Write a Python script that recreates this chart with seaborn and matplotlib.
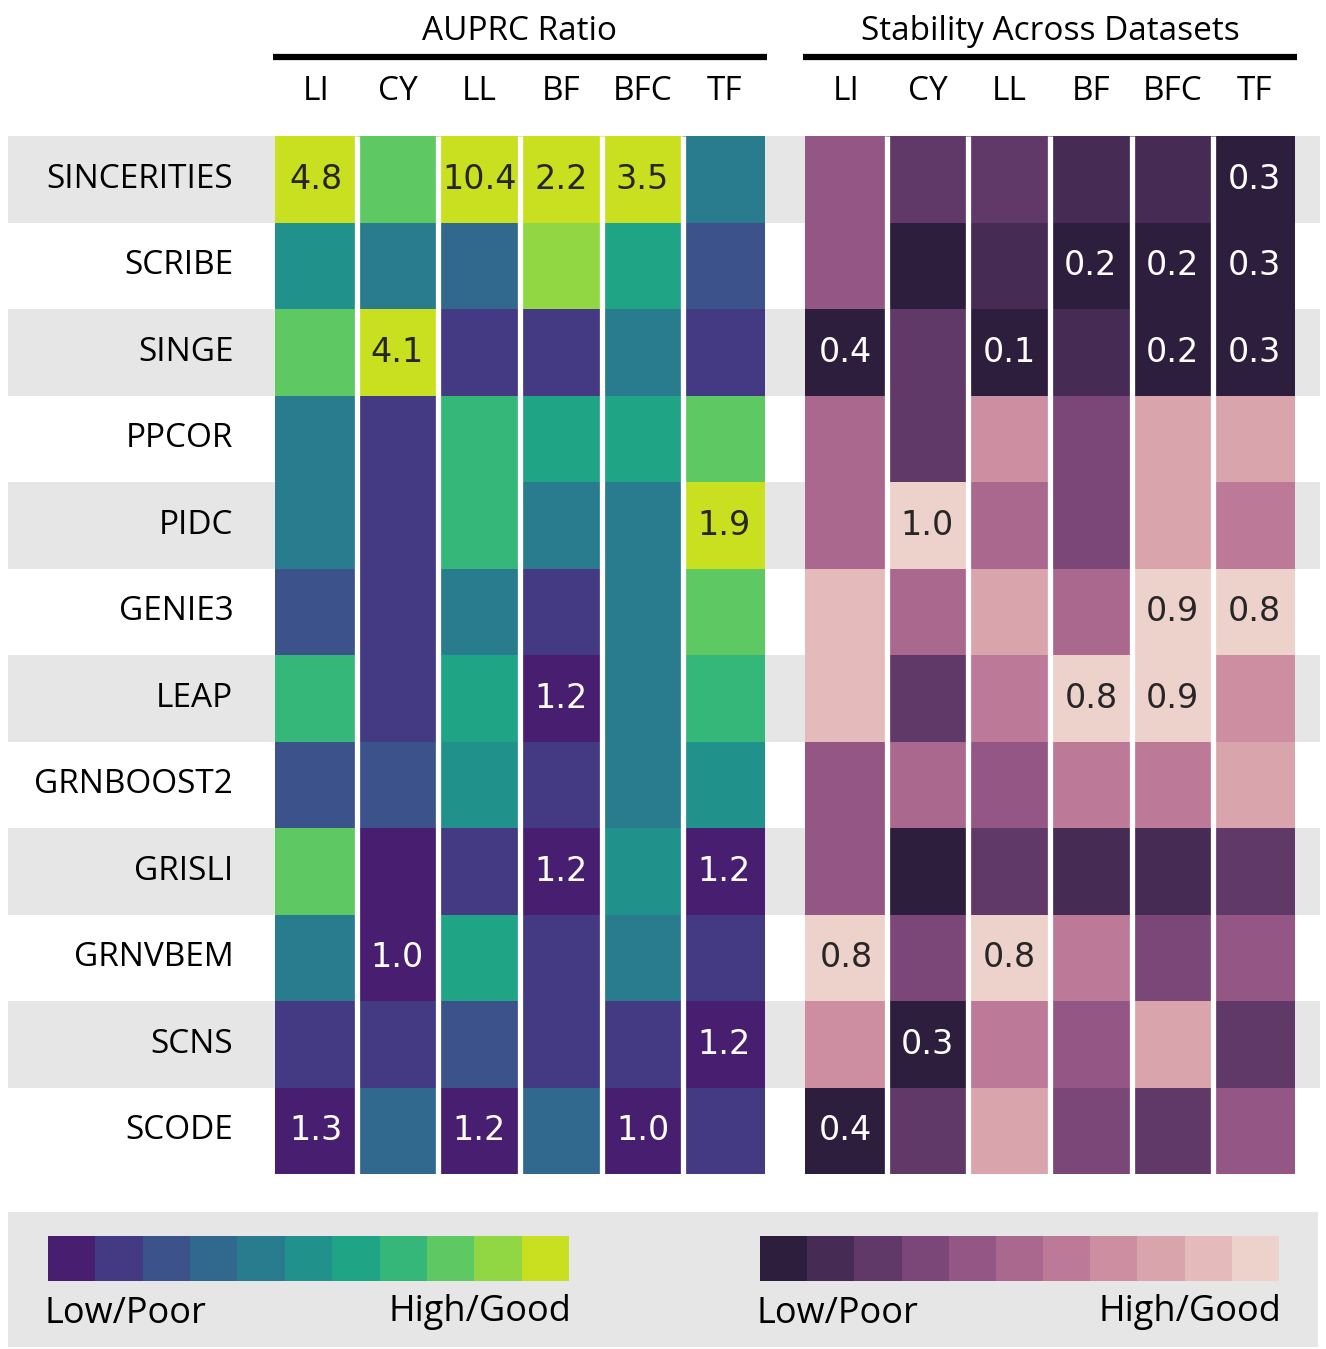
import numpy as np
import matplotlib.pyplot as plt
from matplotlib.colors import ListedColormap
import seaborn as sns

algorithms = ["SINCERITIES", "SCRIBE", "SINGE", "PPCOR", "PIDC", "GENIE3",
              "LEAP", "GRNBOOST2", "GRISLI", "GRNVBEM", "SCNS", "SCODE"]
datasets = ["LI", "CY", "LL", "BF", "BFC", "TF"]

# colour level (0 = low/poor ... 10 = high/good)
auprc_level = [
    [10, 8, 10, 10, 10, 4],
    [5, 4, 3, 9, 6, 2],
    [8, 10, 1, 1, 4, 1],
    [4, 1, 7, 6, 6, 8],
    [4, 1, 7, 4, 4, 10],
    [2, 1, 4, 1, 4, 8],
    [7, 1, 6, 0, 4, 7],
    [2, 2, 5, 1, 4, 5],
    [8, 0, 1, 0, 5, 0],
    [4, 0, 6, 1, 4, 1],
    [1, 1, 2, 1, 1, 0],
    [0, 3, 0, 3, 0, 1],
]
auprc_text = [
    ["4.8", "", "10.4", "2.2", "3.5", ""],
    ["", "", "", "", "", ""],
    ["", "4.1", "", "", "", ""],
    ["", "", "", "", "", ""],
    ["", "", "", "", "", "1.9"],
    ["", "", "", "", "", ""],
    ["", "", "", "1.2", "", ""],
    ["", "", "", "", "", ""],
    ["", "", "", "1.2", "", "1.2"],
    ["", "1.0", "", "", "", ""],
    ["", "", "", "", "", "1.2"],
    ["1.3", "", "1.2", "", "1.0", ""],
]

stab_level = [
    [4, 2, 2, 1, 1, 0],
    [4, 0, 1, 0, 0, 0],
    [0, 2, 0, 1, 0, 0],
    [5, 2, 7, 3, 8, 8],
    [5, 10, 5, 3, 8, 6],
    [9, 5, 8, 5, 10, 10],
    [9, 2, 6, 10, 10, 7],
    [4, 5, 4, 6, 6, 8],
    [4, 0, 2, 1, 1, 2],
    [10, 3, 10, 6, 3, 4],
    [7, 0, 6, 4, 8, 2],
    [0, 2, 8, 3, 2, 4],
]
stab_text = [
    ["", "", "", "", "", "0.3"],
    ["", "", "", "0.2", "0.2", "0.3"],
    ["0.4", "", "0.1", "", "0.2", "0.3"],
    ["", "", "", "", "", ""],
    ["", "1.0", "", "", "", ""],
    ["", "", "", "", "0.9", "0.8"],
    ["", "", "", "0.8", "0.9", ""],
    ["", "", "", "", "", ""],
    ["", "", "", "", "", ""],
    ["0.8", "", "0.8", "", "", ""],
    ["", "0.3", "", "", "", ""],
    ["0.4", "", "", "", "", ""],
]

sns.set_style("white")
plt.rcParams['font.family'] = ['Open Sans', 'DejaVu Sans']
plt.rcParams['text.color'] = 'black'
plt.rcParams['xtick.color'] = 'black'
plt.rcParams['ytick.color'] = 'black'

W, H = 1326, 1349
fig = plt.figure(figsize=(W / 100, H / 100), dpi=100)


def px_axes(x0, y0, x1, y1):
    return fig.add_axes([x0 / W, 1 - y1 / H, (x1 - x0) / W, (y1 - y0) / H])


band = "#e6e6e6"
pal_auprc = sns.color_palette("viridis", 11)
pal_stab = sns.cubehelix_palette(11, reverse=True)

# alternating grey row bands behind both heatmaps
bg = px_axes(8, 136, 1320, 1174)
bg.set_xlim(0, 1)
bg.set_ylim(len(algorithms), 0)
for i in range(0, len(algorithms), 2):
    bg.axhspan(i, i + 1, color=band, lw=0)
bg.axis("off")

ax1 = px_axes(275, 136, 765, 1174)
ax2 = px_axes(805, 136, 1295, 1174)

panels = [(ax1, auprc_level, auprc_text, pal_auprc, "AUPRC Ratio"),
          (ax2, stab_level, stab_text, pal_stab, "Stability Across Datasets")]

for k, (ax, level, text, pal, title) in enumerate(panels):
    sns.heatmap(np.array(level), ax=ax, cmap=ListedColormap(pal),
                vmin=-0.5, vmax=10.5, cbar=False,
                annot=np.array(text), fmt="",
                annot_kws={"family": "DejaVu Sans", "fontsize": 24},
                xticklabels=datasets,
                yticklabels=algorithms if k == 0 else False)
    ax.vlines(range(1, len(datasets)), 0, len(algorithms), color="white", lw=3.8)
    ax.xaxis.tick_top()
    ax.tick_params(axis="x", length=0, pad=20, labelsize=24)
    ax.tick_params(axis="y", length=0, pad=30, labelsize=24, rotation=0)
    ax.plot([-0.004, 1.004], [1.076, 1.076], transform=ax.transAxes,
            color="black", lw=4.5, clip_on=False, solid_capstyle="butt")
    ax.text(0.5, 1.101, title, transform=ax.transAxes, ha="center",
            va="center", fontsize=24)

# legend strip at the bottom
panel = px_axes(8, 1212, 1318, 1347)
panel.set_facecolor(band)
panel.set_xticks([])
panel.set_yticks([])
for s in panel.spines.values():
    s.set_visible(False)

for (x0, x1), pal in [((48, 569), pal_auprc), ((760, 1279), pal_stab)]:
    cax = px_axes(x0, 1236, x1, 1281)
    sns.heatmap(np.arange(11).reshape(1, -1), ax=cax, cmap=ListedColormap(pal),
                cbar=False, xticklabels=False, yticklabels=False)
    fig.text((x0 - 3) / W, 1 - 1314 / H, "Low/Poor", ha="left", va="center",
             fontsize=26)
    fig.text((x1 + 2) / W, 1 - 1312 / H, "High/Good", ha="right", va="center",
             fontsize=26)

fig.savefig("out.png", dpi=100)
